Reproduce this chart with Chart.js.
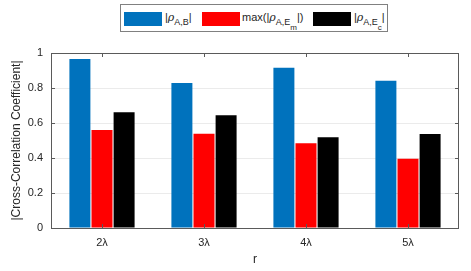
<!DOCTYPE html>
<html>
<head>
<meta charset="utf-8">
<script src="https://cdn.jsdelivr.net/npm/chart.js@4/dist/chart.umd.min.js"></script>
<style>
  html, body { margin:0; padding:0; background:#fff; }
  #wrap { position:relative; width:471px; height:271px; font-family:"Liberation Sans", Arial, sans-serif; color:#262626; }
  canvas { position:absolute; left:0; top:0; }
  #legend { position:absolute; left:120px; top:4px; width:268px; height:28px; border:1px solid #808080; background:#fff; box-sizing:border-box; }
  .sw { position:absolute; top:7px; width:38px; height:14px; }
  .lt { position:absolute; top:6px; font-size:11px; line-height:12px; white-space:nowrap; color:#262626; }
  .lt i { font-family:"DejaVu Serif", serif; font-size:11px; }
  .lt sub { font-size:9px; vertical-align:-4px; line-height:0; }
  .lt sub sub { font-size:8px; vertical-align:-5px; }
</style>
</head>
<body>
<div id="wrap">
  <canvas id="c" width="471" height="271"></canvas>
  <div id="legend"></div>
</div>
<script>
const categories = ["2λ", "3λ", "4λ", "5λ"];
const rhoAB   = [0.966, 0.829, 0.916, 0.842];
const maxRhoAEm = [0.560, 0.539, 0.484, 0.396];
const rhoAEc  = [0.661, 0.644, 0.518, 0.537];
const yTicks = [0, 0.2, 0.4, 0.6, 0.8, 1];
const seriesLabelsHtml = [
  '|<i>ρ</i><sub>A,B</sub>|',
  'max(|<i>ρ</i><sub>A,E<sub>m</sub></sub>|)',
  '|<i>ρ</i><sub>A,E<sub>c</sub></sub>|'
];
const colors = ["#0072BD", "#FF0000", "#000000"];

// legend (HTML, with sub/superscripts)
const leg = document.getElementById('legend');
const swLeft = [3, 81, 192];
const txLeft = [44, 121, 233];
seriesLabelsHtml.forEach((h, i) => {
  const s = document.createElement('div');
  s.className = 'sw'; s.style.left = swLeft[i] + 'px'; s.style.background = colors[i];
  leg.appendChild(s);
  const t = document.createElement('div');
  t.className = 'lt'; t.style.left = txLeft[i] + 'px'; t.innerHTML = h;
  leg.appendChild(t);
});

const boxTicks = {
  id: 'boxTicks',
  afterDraw(chart) {
    const {ctx, chartArea: a, scales: {x, y}} = chart;
    ctx.save();
    ctx.strokeStyle = '#5a5a5a';
    ctx.lineWidth = 1;
    ctx.beginPath();
    const L = 4;
    x.ticks.forEach((t, i) => {
      const px = Math.round(x.getPixelForTick(i)) + 0.5;
      ctx.moveTo(px, a.bottom); ctx.lineTo(px, a.bottom - L);
      ctx.moveTo(px, a.top); ctx.lineTo(px, a.top + L);
    });
    y.ticks.forEach((t, i) => {
      const py = Math.round(y.getPixelForTick(i)) + 0.5;
      ctx.moveTo(a.left, py); ctx.lineTo(a.left + L, py);
      ctx.moveTo(a.right, py); ctx.lineTo(a.right - L, py);
    });
    ctx.stroke();
    ctx.strokeRect(Math.round(a.left) + 0.5, Math.round(a.top) + 0.5, Math.round(a.right - a.left) - 1, Math.round(a.bottom - a.top));
    ctx.restore();
  }
};

new Chart(document.getElementById('c'), {
  type: 'bar',
  data: {
    labels: categories,
    datasets: [
      { label: '|ρA,B|', data: rhoAB, backgroundColor: colors[0] },
      { label: 'max(|ρA,Em|)', data: maxRhoAEm, backgroundColor: colors[1] },
      { label: '|ρA,Ec|', data: rhoAEc, backgroundColor: colors[2] }
    ]
  },
  options: {
    responsive: false,
    animation: false,
    devicePixelRatio: 1,
    categoryPercentage: 0.65,
    barPercentage: 0.95,
    layout: { padding: { top: 53, right: 12, left: 0, bottom: 0 } },
    plugins: { legend: { display: false }, tooltip: { enabled: false } },
    scales: {
      x: {
        offset: true,
        grid: { display: false, drawTicks: false },
        border: { display: false },
        ticks: { color: '#262626', font: { family: 'Liberation Sans', size: 11 }, padding: 8 },
        title: { display: true, text: 'r', color: '#262626', font: { family: 'Liberation Sans', size: 12 }, padding: { top: 0, bottom: 4 } },
        afterFit(s) { s.height = 43; }
      },
      y: {
        min: 0, max: 1,
        afterBuildTicks(s) { s.ticks = yTicks.map(v => ({ value: v })); },
        grid: { color: '#ebebeb', drawTicks: false },
        border: { display: false },
        ticks: {
          color: '#262626', font: { family: 'Liberation Sans', size: 11 }, padding: 8,
          callback: v => String(v)
        },
        title: { display: true, text: '|Cross-Correlation Coefficient|', color: '#262626', font: { family: 'Liberation Sans', size: 12 }, padding: { top: 9, bottom: 0 } },
        afterFit(s) { s.width = 51; }
      }
    }
  },
  plugins: [boxTicks]
});
</script>
</body>
</html>
